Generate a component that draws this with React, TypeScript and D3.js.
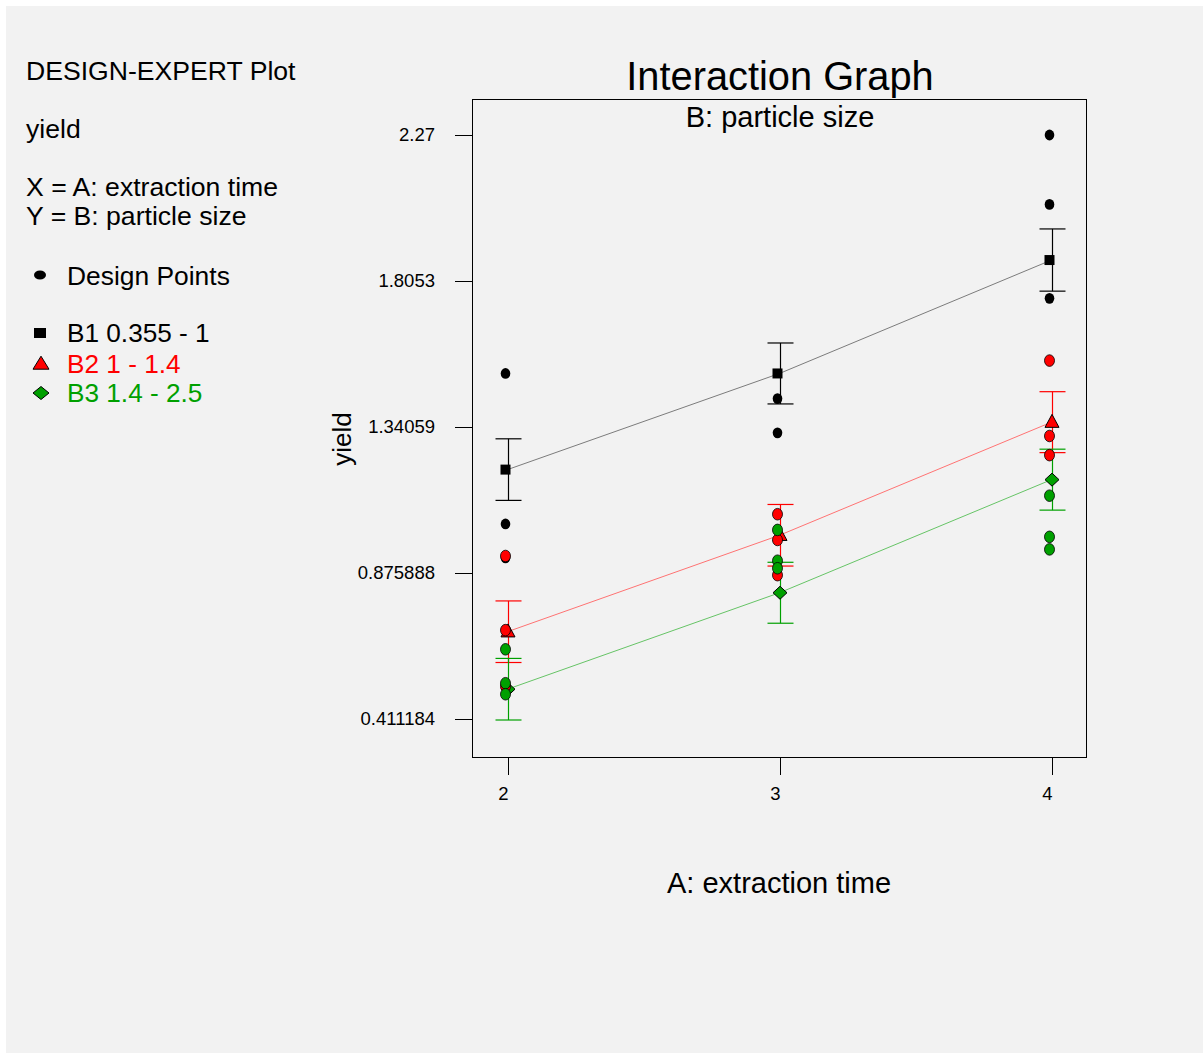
import React, { useEffect, useRef } from "react";
import * as d3 from "d3";

// ---- data ----
const levelsA = [2, 3, 4];
const yTickLabels = ["2.27", "1.8053", "1.34059", "0.875888", "0.411184"];

const seriesNames = ["B1 0.355 - 1", "B2 1 - 1.4", "B3 1.4 - 2.5"];
const seriesShapes = ["square", "triangle", "diamond"];
const seriesColors = ["#000000", "#ff0000", "#00a000"];
const lineColors = ["#7c7c7c", "#ff7373", "#66c466"];

// predicted means at A = 2, 3, 4
const meansB1 = [1.205, 1.511, 1.872];
const meansB2 = [0.689, 0.996, 1.356];
const meansB3 = [0.506, 0.813, 1.173];
// half width of the LSD bars
const lsdB1 = [0.098, 0.097, 0.099];
const lsdB2 = [0.098, 0.098, 0.097];
const lsdB3 = [0.098, 0.097, 0.097];

// design points [A, yield]
const pointsB1: [number, number][] = [
  [2, 1.511], [2, 1.032], [2, 0.924],
  [3, 1.431], [3, 1.322],
  [4, 2.27], [4, 2.049], [4, 1.75],
];
const pointsB2: [number, number][] = [
  [2, 0.515], [2, 0.93], [2, 0.694],
  [3, 1.063], [3, 0.981], [3, 0.869],
  [4, 1.552], [4, 1.312], [4, 1.251],
];
const pointsB3: [number, number][] = [
  [2, 0.633], [2, 0.525], [2, 0.49],
  [3, 1.013], [3, 0.915], [3, 0.891],
  [4, 1.122], [4, 0.991], [4, 0.951],
];

const FONT = "'Liberation Sans', Arial, Helvetica, sans-serif";

const markerPath = (shape: string, cx: number, cy: number, w: number, h: number) => {
  const p = d3.path();
  if (shape === "square") {
    p.rect(cx - w / 2, cy - h / 2, w, h);
  } else if (shape === "triangle") {
    p.moveTo(cx, cy - h * 0.6);
    p.lineTo(cx + w / 2, cy + h * 0.4);
    p.lineTo(cx - w / 2, cy + h * 0.4);
    p.closePath();
  } else {
    p.moveTo(cx, cy - h / 2);
    p.lineTo(cx + w / 2, cy);
    p.lineTo(cx, cy + h / 2);
    p.lineTo(cx - w / 2, cy);
    p.closePath();
  }
  return p.toString();
};

const InteractionGraph = () => {
  const ref = useRef<SVGSVGElement | null>(null);

  useEffect(() => {
    if (!ref.current) return;
    const svg = d3.select(ref.current);
    svg.selectAll("*").remove();

    const W = 1203;
    const H = 1053;
    const box = { left: 472, top: 99, right: 1086, bottom: 757 };

    svg.append("rect").attr("width", W).attr("height", H).attr("fill", "#ffffff");
    svg.append("rect").attr("x", 6).attr("y", 6).attr("width", W - 6).attr("height", H - 6).attr("fill", "#f2f2f2");

    const x = d3.scaleLinear().domain([2, 4]).range([507.5, 1051.5]);
    const yTicks = yTickLabels.map(Number);
    const y = d3.scaleLinear().domain([d3.min(yTicks)!, d3.max(yTicks)!]).range([719, 135]);

    // ===== frame =====
    svg
      .append("rect")
      .attr("x", box.left + 0.5)
      .attr("y", box.top + 0.5)
      .attr("width", box.right - box.left)
      .attr("height", box.bottom - box.top)
      .attr("fill", "none")
      .attr("stroke", "#000")
      .attr("stroke-width", 1);

    // ===== y axis =====
    yTicks.forEach((v, i) => {
      const yy = Math.round(y(v)) + 0.5;
      svg.append("line")
        .attr("x1", box.left - 17).attr("x2", box.left)
        .attr("y1", yy).attr("y2", yy)
        .attr("stroke", "#000");
      svg.append("text")
        .attr("x", 435).attr("y", y(v) + 6)
        .attr("text-anchor", "end")
        .style("font-family", FONT).style("font-size", "18.5px")
        .text(yTickLabels[i]);
    });

    // ===== x axis =====
    levelsA.forEach(a => {
      const xx = Math.round(x(a)) + 0.5;
      svg.append("line")
        .attr("x1", xx).attr("x2", xx)
        .attr("y1", box.bottom).attr("y2", box.bottom + 18)
        .attr("stroke", "#000");
      svg.append("text")
        .attr("x", x(a) - 4).attr("y", 800)
        .attr("text-anchor", "middle")
        .style("font-family", FONT).style("font-size", "18.5px")
        .text(a);
    });

    // ===== titles =====
    svg.append("text")
      .attr("x", 780).attr("y", 90)
      .attr("text-anchor", "middle")
      .style("font-family", FONT).style("font-size", "39.8px")
      .text("Interaction Graph");
    svg.append("text")
      .attr("x", 780).attr("y", 127)
      .attr("text-anchor", "middle")
      .style("font-family", FONT).style("font-size", "29px")
      .text("B: particle size");
    svg.append("text")
      .attr("x", 779).attr("y", 893)
      .attr("text-anchor", "middle")
      .style("font-family", FONT).style("font-size", "29px")
      .text("A: extraction time");
    svg.append("text")
      .attr("transform", "translate(351,439) rotate(-90)")
      .attr("text-anchor", "middle")
      .style("font-family", FONT).style("font-size", "26px")
      .text("yield");

    // ===== left info panel =====
    const info = [
      { t: "DESIGN-EXPERT Plot", y: 80 },
      { t: "yield", y: 138 },
      { t: "X = A: extraction time", y: 196 },
      { t: "Y = B: particle size", y: 225 },
    ];
    info.forEach(d => {
      svg.append("text")
        .attr("x", 26).attr("y", d.y)
        .style("font-family", FONT).style("font-size", "26.6px")
        .text(d.t);
    });
    svg.append("ellipse")
      .attr("cx", 40).attr("cy", 275).attr("rx", 6).attr("ry", 4.5)
      .attr("fill", "#000");
    svg.append("text")
      .attr("x", 67).attr("y", 285)
      .style("font-family", FONT).style("font-size", "26.4px")
      .text("Design Points");

    const legendY = [333, 364, 393];
    seriesNames.forEach((name, i) => {
      const shape = seriesShapes[i];
      svg.append("path")
        .attr("d", shape === "square"
          ? markerPath(shape, 40, legendY[i], 12, 10)
          : markerPath(shape, 41, legendY[i], 16, 13))
        .attr("fill", seriesColors[i])
        .attr("stroke", shape === "square" ? "none" : "#000")
        .attr("stroke-width", 1);
      svg.append("text")
        .attr("x", 67).attr("y", legendY[i] + 9)
        .style("font-family", FONT).style("font-size", "26.2px")
        .style("fill", seriesColors[i])
        .text(name);
    });

    // ===== interaction lines + LSD bars =====
    const allMeans = [meansB1, meansB2, meansB3];
    const allLsd = [lsdB1, lsdB2, lsdB3];
    const line = d3.line<number>()
      .x((_, j) => x(levelsA[j]))
      .y(d => y(d));

    allMeans.forEach((means, i) => {
      svg.append("path")
        .datum(means)
        .attr("fill", "none")
        .attr("stroke", lineColors[i])
        .attr("stroke-width", 1)
        .attr("d", line);

      means.forEach((m, j) => {
        const xx = Math.round(x(levelsA[j])) + 0.5;
        const hi = y(m + allLsd[i][j]);
        const lo = y(m - allLsd[i][j]);
        const g = svg.append("g").attr("stroke", seriesColors[i]).attr("stroke-width", 1.2);
        g.append("line").attr("x1", xx).attr("x2", xx).attr("y1", hi).attr("y2", lo);
        g.append("line").attr("x1", xx - 13).attr("x2", xx + 13).attr("y1", hi).attr("y2", hi);
        g.append("line").attr("x1", xx - 13).attr("x2", xx + 13).attr("y1", lo).attr("y2", lo);
      });
    });

    // ===== mean markers =====
    allMeans.forEach((means, i) => {
      const shape = seriesShapes[i];
      means.forEach((m, j) => {
        const cx = x(levelsA[j]) + (shape === "square" ? -2 : 0.5);
        svg.append("path")
          .attr("d", shape === "square"
            ? markerPath(shape, cx, y(m), 10, 10)
            : markerPath(shape, cx, y(m), 14, 13))
          .attr("fill", seriesColors[i])
          .attr("stroke", shape === "square" ? "none" : "#000")
          .attr("stroke-width", 1);
      });
    });

    // ===== design points =====
    const allPoints = [pointsB1, pointsB2, pointsB3];
    allPoints.forEach((pts, i) => {
      svg.selectAll(null)
        .data(pts)
        .enter()
        .append("ellipse")
        .attr("cx", d => x(d[0]) - 2)
        .attr("cy", d => y(d[1]))
        .attr("rx", i === 0 ? 4.8 : 5)
        .attr("ry", i === 0 ? 5.4 : 5.8)
        .attr("fill", seriesColors[i])
        .attr("stroke", i === 0 ? "none" : "#000")
        .attr("stroke-width", 0.8);
    });
  }, []);

  return (
    <svg
      ref={ref}
      width={1203}
      height={1053}
      style={{ position: "absolute", left: 0, top: 0, display: "block" }}
    />
  );
};

export default function App() {
  return <InteractionGraph />;
}
